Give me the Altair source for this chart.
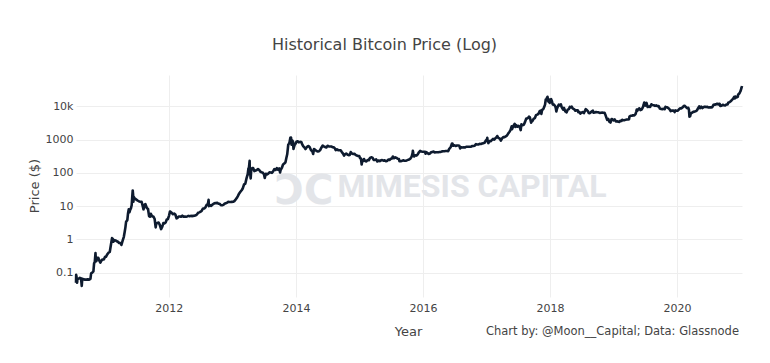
import altair as alt
import pandas as pd

# ---- data (approximate BTC price, USD) ----
p2010 = [("07-17", 0.05), ("07-18", 0.086), ("07-20", 0.075), ("07-23", 0.05), ("07-26", 0.065),
         ("08-01", 0.066), ("08-08", 0.07), ("08-15", 0.067), ("08-19", 0.04), ("08-22", 0.066),
         ("08-30", 0.063), ("09-07", 0.062), ("09-15", 0.062), ("09-23", 0.063), ("10-01", 0.062),
         ("10-08", 0.065), ("10-12", 0.095), ("10-18", 0.10), ("10-25", 0.11), ("10-29", 0.19),
         ("11-02", 0.21), ("11-06", 0.39), ("11-08", 0.25), ("11-11", 0.22), ("11-16", 0.28),
         ("11-22", 0.28), ("11-28", 0.23), ("12-04", 0.20), ("12-10", 0.23), ("12-16", 0.25),
         ("12-24", 0.25), ("12-31", 0.30)]
p2011 = [("01-05", 0.30), ("01-12", 0.35), ("01-20", 0.40), ("01-27", 0.42), ("02-03", 0.70),
         ("02-09", 1.09), ("02-13", 1.05), ("02-17", 0.85), ("02-24", 0.95), ("03-01", 0.93),
         ("03-08", 0.88), ("03-15", 0.85), ("03-22", 0.78), ("03-29", 0.78), ("04-04", 0.68),
         ("04-12", 0.95), ("04-18", 1.2), ("04-23", 1.7), ("04-27", 2.3), ("05-01", 3.4),
         ("05-08", 3.8), ("05-12", 6.0), ("05-16", 8.0), ("05-20", 6.5), ("05-24", 7.6),
         ("05-29", 8.7), ("06-02", 10.6), ("06-05", 18), ("06-08", 29.6), ("06-10", 23),
         ("06-12", 13.5), ("06-14", 19), ("06-19", 17), ("06-24", 16.5), ("07-01", 15.4),
         ("07-08", 14.5), ("07-15", 13.8), ("07-22", 13.6), ("07-29", 13.5), ("08-05", 9.8),
         ("08-09", 8.0), ("08-15", 11), ("08-20", 11.5), ("08-28", 8.8), ("09-04", 8.2),
         ("09-10", 5.0), ("09-15", 4.8), ("09-20", 5.9), ("09-28", 4.9), ("10-05", 4.9),
         ("10-12", 4.1), ("10-18", 2.3), ("10-21", 3.0), ("10-28", 3.1), ("11-04", 3.2),
         ("11-10", 2.8), ("11-18", 2.04), ("11-25", 2.4), ("12-01", 3.1), ("12-07", 3.0),
         ("12-14", 3.2), ("12-20", 3.9), ("12-27", 4.1)]
p2012 = [("01-03", 5.2), ("01-08", 6.9), ("01-12", 6.7), ("01-18", 6.3), ("01-25", 5.7),
         ("02-01", 6.0), ("02-08", 5.6), ("02-15", 4.3), ("02-20", 4.4), ("02-27", 4.9),
         ("03-05", 4.9), ("03-12", 4.8), ("03-19", 5.2), ("03-26", 4.8), ("04-02", 4.9),
         ("04-09", 4.8), ("04-16", 4.9), ("04-23", 5.1), ("04-30", 4.95), ("05-07", 5.1),
         ("05-14", 5.0), ("05-21", 5.1), ("05-28", 5.15), ("06-04", 5.3), ("06-11", 5.6),
         ("06-18", 6.3), ("06-25", 6.5), ("07-02", 6.8), ("07-09", 7.3), ("07-16", 8.5),
         ("07-23", 8.5), ("07-30", 9.2), ("08-06", 11), ("08-13", 11.6), ("08-17", 15.4),
         ("08-19", 10), ("08-25", 10.7), ("09-01", 10.1), ("09-08", 11.1), ("09-15", 11.8),
         ("09-22", 12.3), ("09-29", 12.3), ("10-06", 12.5), ("10-13", 11.8), ("10-20", 11.8),
         ("10-27", 10.6), ("11-03", 10.6), ("11-10", 10.9), ("11-17", 11.8), ("11-24", 12.3),
         ("12-01", 12.6), ("12-08", 13.4), ("12-15", 13.3), ("12-22", 13.3), ("12-29", 13.4)]
p2013 = [("01-05", 13.5), ("01-12", 14.2), ("01-19", 15.7), ("01-26", 17.5), ("02-02", 20.4),
         ("02-09", 24), ("02-16", 27), ("02-23", 30), ("03-02", 34.5), ("03-09", 45),
         ("03-16", 47), ("03-23", 68), ("03-30", 92), ("04-03", 135), ("04-06", 142),
         ("04-10", 230), ("04-11", 90), ("04-13", 98), ("04-16", 68), ("04-19", 118),
         ("04-25", 140), ("04-30", 139), ("05-07", 113), ("05-14", 117), ("05-21", 122),
         ("05-28", 129), ("06-04", 121), ("06-11", 108), ("06-18", 104), ("06-25", 101),
         ("07-02", 88), ("07-06", 70), ("07-12", 94), ("07-19", 90), ("07-26", 95),
         ("08-02", 104), ("08-09", 102), ("08-16", 100), ("08-23", 110), ("08-30", 129),
         ("09-06", 122), ("09-13", 138), ("09-20", 125), ("09-27", 136), ("10-02", 103),
         ("10-05", 121), ("10-12", 140), ("10-19", 178), ("10-26", 190), ("11-02", 208),
         ("11-07", 280), ("11-12", 360), ("11-18", 700), ("11-21", 740), ("11-25", 800),
         ("11-30", 1130), ("12-04", 1147), ("12-07", 700), ("12-10", 950), ("12-15", 870),
         ("12-18", 520), ("12-22", 620), ("12-27", 745), ("12-31", 760)]
p2014 = [("01-04", 860), ("01-11", 890), ("01-18", 820), ("01-25", 850), ("02-01", 840),
         ("02-07", 700), ("02-13", 620), ("02-21", 560), ("02-25", 520), ("03-01", 560),
         ("03-08", 620), ("03-15", 640), ("03-22", 580), ("03-29", 480), ("04-05", 450),
         ("04-10", 370), ("04-15", 520), ("04-22", 490), ("04-30", 450), ("05-07", 440),
         ("05-14", 445), ("05-21", 490), ("05-28", 580), ("06-04", 660), ("06-11", 620),
         ("06-18", 600), ("06-25", 580), ("07-02", 650), ("07-09", 625), ("07-16", 620),
         ("07-23", 620), ("07-30", 590), ("08-06", 590), ("08-13", 545), ("08-18", 480),
         ("08-25", 510), ("09-01", 480), ("09-08", 475), ("09-15", 475), ("09-22", 420),
         ("09-29", 380), ("10-05", 330), ("10-10", 360), ("10-17", 380), ("10-24", 355),
         ("10-31", 340), ("11-07", 345), ("11-12", 420), ("11-19", 380), ("11-26", 370),
         ("12-03", 375), ("12-10", 345), ("12-17", 330), ("12-24", 322), ("12-31", 318)]
p2015 = [("01-05", 275), ("01-10", 270), ("01-14", 178), ("01-16", 210), ("01-21", 225),
         ("01-27", 260), ("02-03", 226), ("02-10", 220), ("02-17", 243), ("02-24", 238),
         ("03-03", 280), ("03-10", 293), ("03-17", 285), ("03-24", 245), ("03-31", 244),
         ("04-07", 254), ("04-14", 219), ("04-21", 235), ("04-28", 225), ("05-05", 238),
         ("05-12", 242), ("05-19", 233), ("05-26", 237), ("06-02", 225), ("06-09", 229),
         ("06-16", 250), ("06-23", 244), ("06-30", 264), ("07-07", 270), ("07-12", 310),
         ("07-19", 275), ("07-26", 292), ("08-02", 280), ("08-09", 265), ("08-16", 260),
         ("08-19", 225), ("08-26", 225), ("09-02", 228), ("09-09", 238), ("09-16", 230),
         ("09-23", 231), ("09-30", 236), ("10-07", 245), ("10-14", 253), ("10-21", 268),
         ("10-28", 305), ("11-03", 400), ("11-04", 460), ("11-07", 380), ("11-11", 310),
         ("11-18", 335), ("11-25", 330), ("12-02", 360), ("12-09", 415), ("12-16", 455),
         ("12-23", 440), ("12-30", 430)]
p2016 = [("01-06", 430), ("01-13", 430), ("01-16", 375), ("01-20", 420), ("01-27", 395),
         ("02-03", 370), ("02-10", 380), ("02-17", 415), ("02-24", 425), ("03-02", 435),
         ("03-09", 412), ("03-16", 415), ("03-23", 415), ("03-30", 415), ("04-06", 422),
         ("04-13", 425), ("04-20", 442), ("04-27", 447), ("05-04", 447), ("05-11", 452),
         ("05-18", 453), ("05-25", 450), ("06-01", 535), ("06-08", 580), ("06-12", 670),
         ("06-16", 760), ("06-19", 760), ("06-23", 650), ("06-30", 675), ("07-07", 640),
         ("07-14", 660), ("07-21", 665), ("07-28", 655), ("08-02", 540), ("08-09", 590),
         ("08-16", 580), ("08-23", 585), ("08-30", 575), ("09-06", 610), ("09-13", 608),
         ("09-20", 610), ("09-27", 605), ("10-04", 612), ("10-11", 640), ("10-18", 637),
         ("10-25", 657), ("11-01", 728), ("11-08", 710), ("11-15", 712), ("11-22", 740),
         ("11-29", 732), ("12-06", 760), ("12-13", 780), ("12-20", 800), ("12-27", 930)]
p2017 = [("01-03", 1020), ("01-05", 1130), ("01-07", 890), ("01-11", 780), ("01-17", 900),
         ("01-24", 890), ("01-31", 965), ("02-07", 1050), ("02-14", 1000), ("02-21", 1100),
         ("02-28", 1190), ("03-03", 1280), ("03-10", 1110), ("03-17", 1080), ("03-24", 930),
         ("03-31", 1080), ("04-07", 1190), ("04-14", 1180), ("04-21", 1240), ("04-28", 1330),
         ("05-05", 1510), ("05-12", 1700), ("05-19", 1950), ("05-25", 2500), ("05-27", 2050),
         ("06-03", 2520), ("06-11", 2950), ("06-15", 2400), ("06-20", 2700), ("06-27", 2450),
         ("07-04", 2600), ("07-11", 2330), ("07-16", 1930), ("07-20", 2850), ("07-27", 2700),
         ("08-03", 2800), ("08-10", 3400), ("08-17", 4300), ("08-24", 4300), ("08-31", 4700),
         ("09-02", 4900), ("09-07", 4600), ("09-14", 3200), ("09-17", 3700), ("09-21", 3600),
         ("09-28", 4200), ("10-05", 4400), ("10-12", 5400), ("10-19", 5600), ("10-26", 5900),
         ("11-02", 7100), ("11-08", 7400), ("11-12", 5900), ("11-16", 7800), ("11-23", 8200),
         ("11-29", 9900), ("12-03", 11200), ("12-07", 16000), ("12-10", 15000), ("12-12", 17000),
         ("12-17", 19300), ("12-22", 13800), ("12-26", 16000), ("12-30", 12600)]
p2018 = [("01-03", 15000), ("01-07", 16400), ("01-12", 13900), ("01-16", 11300), ("01-18", 11200),
         ("01-24", 11200), ("01-30", 10100), ("02-02", 9100), ("02-06", 7000), ("02-09", 8200),
         ("02-15", 10000), ("02-20", 11200), ("02-27", 10600), ("03-04", 11500), ("03-09", 9300),
         ("03-15", 8300), ("03-18", 7900), ("03-22", 8900), ("03-29", 7100), ("04-01", 6850),
         ("04-06", 6600), ("04-12", 7900), ("04-19", 8200), ("04-24", 9600), ("05-01", 9200),
         ("05-05", 9800), ("05-12", 8500), ("05-19", 8200), ("05-26", 7350), ("06-02", 7600),
         ("06-09", 7600), ("06-12", 6600), ("06-19", 6700), ("06-24", 6000), ("06-30", 6400),
         ("07-07", 6700), ("07-14", 6250), ("07-21", 7400), ("07-25", 8200), ("07-31", 7700),
         ("08-07", 7000), ("08-11", 6300), ("08-14", 6200), ("08-21", 6400), ("08-28", 7050),
         ("09-04", 7350), ("09-08", 6400), ("09-15", 6500), ("09-22", 6700), ("09-29", 6600),
         ("10-06", 6600), ("10-13", 6300), ("10-20", 6420), ("10-27", 6450), ("11-03", 6400),
         ("11-10", 6400), ("11-14", 5700), ("11-19", 4800), ("11-25", 3900), ("12-01", 4200),
         ("12-07", 3450), ("12-14", 3250), ("12-20", 4100), ("12-24", 4100), ("12-31", 3750)]
p2019 = [("01-07", 4050), ("01-14", 3500), ("01-21", 3550), ("01-28", 3450), ("02-04", 3400),
         ("02-08", 3650), ("02-15", 3600), ("02-19", 3900), ("02-24", 3850), ("03-03", 3800),
         ("03-10", 3900), ("03-17", 4000), ("03-24", 4000), ("03-31", 4100), ("04-02", 4900),
         ("04-09", 5200), ("04-16", 5200), ("04-23", 5400), ("04-30", 5300), ("05-07", 5800),
         ("05-11", 6800), ("05-14", 8000), ("05-17", 7300), ("05-21", 7950), ("05-28", 8700),
         ("06-04", 7700), ("06-11", 8000), ("06-18", 9300), ("06-22", 10700), ("06-26", 12900),
         ("06-28", 11000), ("07-02", 10500), ("07-09", 12600), ("07-16", 9500), ("07-23", 9800),
         ("07-30", 9500), ("08-06", 11500), ("08-13", 10900), ("08-20", 10700), ("08-27", 10300),
         ("09-03", 10600), ("09-10", 10100), ("09-17", 10200), ("09-24", 8500), ("10-01", 8300),
         ("10-08", 8200), ("10-15", 8400), ("10-22", 8200), ("10-26", 9600), ("10-29", 9400),
         ("11-05", 9300), ("11-12", 8800), ("11-19", 8100), ("11-25", 7100), ("12-01", 7400),
         ("12-08", 7500), ("12-15", 7100), ("12-18", 6700), ("12-22", 7500), ("12-29", 7300)]
p2020 = [("01-05", 7400), ("01-12", 8100), ("01-19", 8700), ("01-26", 8600), ("02-02", 9350),
         ("02-09", 10150), ("02-13", 10350), ("02-20", 9600), ("02-27", 8800), ("03-05", 9050),
         ("03-09", 7900), ("03-12", 4900), ("03-16", 5000), ("03-20", 6200), ("03-27", 6400),
         ("04-03", 6800), ("04-10", 6900), ("04-17", 7100), ("04-24", 7500), ("04-30", 8650),
         ("05-07", 9950), ("05-12", 8800), ("05-19", 9750), ("05-26", 8850), ("06-02", 9500),
         ("06-09", 9750), ("06-16", 9450), ("06-23", 9650), ("06-30", 9150), ("07-07", 9250),
         ("07-14", 9250), ("07-21", 9400), ("07-28", 11000), ("08-04", 11200), ("08-11", 11400),
         ("08-18", 11900), ("08-25", 11350), ("09-01", 11900), ("09-05", 10200), ("09-12", 10400),
         ("09-19", 11100), ("09-26", 10700), ("10-03", 10550), ("10-10", 11300), ("10-17", 11350),
         ("10-21", 12800), ("10-28", 13300), ("11-04", 14100), ("11-10", 15300), ("11-17", 16700),
         ("11-24", 19100), ("11-27", 17100), ("12-01", 19700), ("12-08", 18300), ("12-15", 19400),
         ("12-17", 22800), ("12-22", 23500), ("12-27", 26300), ("12-31", 29000)]
p2021 = [("01-03", 32800), ("01-06", 36800), ("01-08", 40600)]

year_series = [(2010, p2010), (2011, p2011), (2012, p2012), (2013, p2013), (2014, p2014),
               (2015, p2015), (2016, p2016), (2017, p2017), (2018, p2018), (2019, p2019),
               (2020, p2020), (2021, p2021)]

x_tick_years = [2012, 2014, 2016, 2018, 2020]
y_ticks = [0.1, 1, 10, 100, 1000, 10000]
y_domain = [0.0186, 87000]

title_text = ["Historical Bitcoin Price (Log)"]
y_title = ["Price ($)"]
x_title = ["Year"]
credit = ["Chart by: @Moon__Capital; Data: Glassnode"]
watermark = ["MIMESIS CAPITAL"]
logo = ["ƆC"]

rows = []
for yr, pts in year_series:
    for md, price in pts:
        rows.append({"date": f"{yr}-{md}", "price": price})
df = pd.DataFrame(rows)

W, H = 666, 222
FONT = "DejaVu Sans"
TXT = "#444444"

line = alt.Chart(df).mark_line(color="#0e1b2f", strokeWidth=2.6, strokeJoin="round").encode(
    x=alt.X("date:T",
            scale=alt.Scale(type="utc",
                            domain=[alt.DateTime(year=2010, month=7, date=17, utc=True),
                                    alt.DateTime(year=2021, month=1, date=8, utc=True)]),
            axis=alt.Axis(values=[alt.DateTime(year=y, month=1, date=1, utc=True) for y in x_tick_years],
                          format="%Y", grid=True, gridColor="#eeeeee", gridWidth=1,
                          domain=False, ticks=False, labelFont=FONT, labelFontSize=11,
                          labelColor=TXT, labelPadding=5, title=None)),
    y=alt.Y("price:Q",
            scale=alt.Scale(type="log", domain=y_domain, nice=False),
            axis=alt.Axis(values=y_ticks, grid=True, gridColor="#eeeeee", gridWidth=1,
                          domain=False, ticks=False, labelFont=FONT, labelFontSize=11,
                          labelColor=TXT, labelPadding=3, title=None,
                          labelExpr="datum.value >= 10000 ? format(datum.value/1000, 'd') + 'k' : (datum.value < 1 ? format(datum.value, '.1f') : format(datum.value, 'd'))")),
)


def txt(values, x, y, size, align="center", baseline="middle", angle=0, color=TXT,
        font=FONT, weight="normal"):
    d = pd.DataFrame({"t": values})
    return alt.Chart(d).mark_text(align=align, baseline=baseline, angle=angle, color=color,
                                  font=font, fontSize=size, fontWeight=weight).encode(
        text="t:N", x=alt.value(x), y=alt.value(y))


WM = "#e3e5e9"
wm_text = txt(watermark, 396, 122, 32, baseline="alphabetic", color=WM, font="Roboto", weight="bold")
wm_logo = txt(logo, 228, 129, 40, baseline="alphabetic", color=WM, font=FONT, weight="bold")

title = txt(title_text, 308.5, -30, 16)
ytitle = txt(y_title, -41, 111, 13, angle=270)
xtitle = txt(x_title, 332.5, 257, 13)
credit_t = txt(credit, 663, 257, 11.5, align="right")

chart = alt.layer(wm_logo, wm_text, line, title, ytitle, xtitle, credit_t).properties(
    width=W, height=H,
    padding={"left": 68, "top": 67, "right": 16, "bottom": 50},
    autosize=alt.AutoSizeParams(type="none"),
).configure_view(strokeWidth=0)

chart.save("out.html", embed_options={"renderer": "svg", "actions": False})
